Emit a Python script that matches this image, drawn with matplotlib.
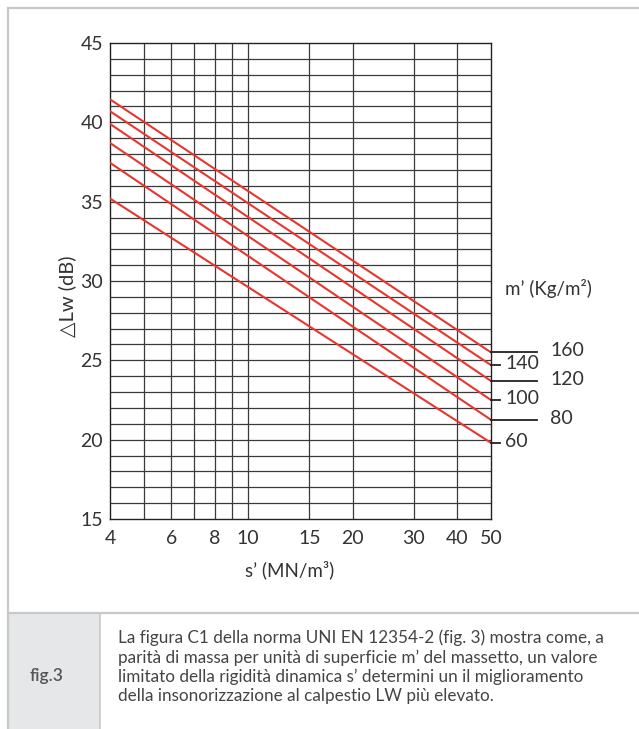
import matplotlib
matplotlib.use("Agg")
import matplotlib.pyplot as plt
from matplotlib.lines import Line2D
from matplotlib.patches import Rectangle
import matplotlib.transforms as mtransforms

# values
s_prime = [4, 50]                      # MN/m3, line endpoints
masses = [60, 80, 100, 120, 140, 160]  # kg/m2
dLw_at_4 = [35.2, 37.45, 38.7, 39.9, 40.7, 41.45]
dLw_at_50 = [19.8, 21.25, 22.5, 23.7, 24.7, 25.5]

x_ticks = [4, 6, 8, 10, 15, 20, 30, 40, 50]
x_grid = [5, 6, 7, 8, 9, 10, 15, 20, 30, 40]
y_ticks = [15, 20, 25, 30, 35, 40, 45]

caption = ("La figura C1 della norma UNI EN 12354-2 (fig. 3) mostra come, a\n"
           "parità di massa per unità di superficie m’ del massetto, un valore\n"
           "limitato della rigidità dinamica s’ determini un il miglioramento\n"
           "della insonorizzazione al calpestio LW più elevato.")

plt.rcParams['font.family'] = ['Lato', 'DejaVu Sans']
W, H = 639, 729
fig = plt.figure(figsize=(W / 100, H / 100), dpi=100)
fig.patch.set_facecolor('white')

def fx(px):
    return px / W

def fy(py):
    return 1 - py / H

ax = fig.add_axes([fx(110), fy(519), fx(491) - fx(110), fy(43) - fy(519)])
ax.set_xscale('log')
ax.set_xlim(4, 50)
ax.set_ylim(15, 45)

# grid
for y in range(16, 45):
    ax.axhline(y, color='#3a3a3a', lw=0.9, zorder=1)
for x in x_grid:
    ax.axvline(x, color='#3a3a3a', lw=0.9, zorder=1)
for sp in ax.spines.values():
    sp.set_color('#222222')
    sp.set_linewidth(1.0)

# the m' lines
for a, b in zip(dLw_at_4, dLw_at_50):
    ax.plot(s_prime, [a, b], color='#e8352e', lw=1.5, zorder=3)

ax.set_xticks(x_ticks)
ax.set_xticklabels([str(v) for v in x_ticks])
ax.xaxis.set_minor_locator(matplotlib.ticker.NullLocator())
ax.set_yticks(y_ticks)
ax.tick_params(length=0, labelsize=14, labelcolor='#333333')
ax.tick_params(axis='x', pad=8)
ax.tick_params(axis='y', pad=5)

# right-hand m' markers
trans = mtransforms.blended_transform_factory(ax.transAxes, ax.transData)
for i, (m, yv) in enumerate(zip(masses, dLw_at_50)):
    long_tick = (i % 2 == 1)
    x_end = 1.121 if long_tick else 1.024
    ax.plot([1.0, x_end], [yv, yv], color='#222222', lw=1.3,
            transform=trans, clip_on=False, zorder=4)
    x_lab = 1.155 if long_tick else 1.037
    ax.text(x_lab, yv + 0.1, str(m), transform=trans, ha='left', va='center',
            fontsize=14, color='#333333')

fig.text(fx(505), fy(289), 'm’ (Kg/m²)', ha='left', va='center',
         fontsize=13.5, color='#333333')
fig.text(fx(67), fy(296), '△Lw (dB)', rotation=90, ha='center', va='center',
         fontsize=14.5, color='#333333')
fig.text(fx(290), fy(570), 's’ (MN/m³)', ha='center', va='center',
         fontsize=13.5, color='#333333')

# page frame and caption box
frame = '#c8c8c8'
fig.add_artist(Rectangle((fx(8), 0), fx(100) - fx(8), fy(613), transform=fig.transFigure,
                         facecolor='#e6e7e8', edgecolor='none', zorder=0))
fig.add_artist(Line2D([fx(8), 1], [fy(8), fy(8)], color=frame, lw=1.6))
fig.add_artist(Line2D([fx(8), fx(8)], [0, fy(8)], color=frame, lw=1.6))
fig.add_artist(Line2D([fx(8), 1], [fy(613), fy(613)], color=frame, lw=1.6))
fig.add_artist(Line2D([fx(100), fx(100)], [0, fy(613)], color=frame, lw=1.2))

fig.text(fx(30), fy(676), 'fig.3', ha='left', va='center', fontsize=12.5,
         fontweight='semibold', color='#555555')
fig.text(fx(118), fy(667), caption, ha='left', va='center', fontsize=12.3,
         color='#444444', linespacing=1.23)

fig.savefig('out.png', dpi=100)
